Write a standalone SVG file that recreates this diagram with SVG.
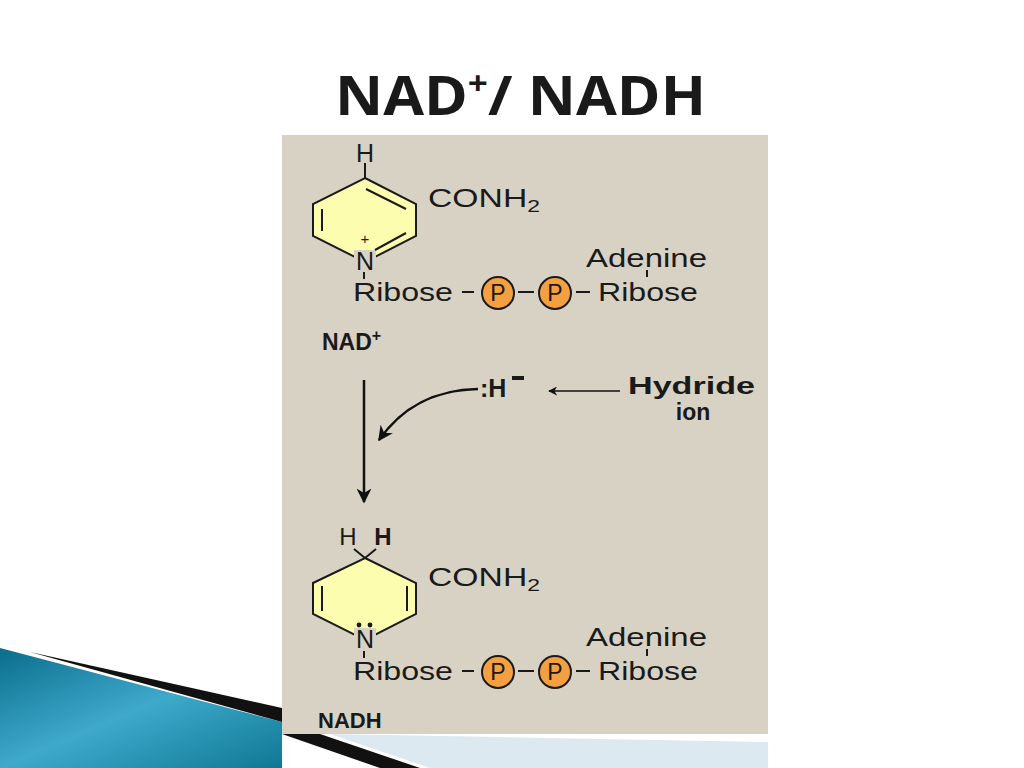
<svg xmlns="http://www.w3.org/2000/svg" width="1024" height="768" viewBox="0 0 1024 768">
<defs>
<linearGradient id="blu" x1="0" y1="0" x2="1" y2="1"><stop offset="0" stop-color="#0a6e8c"/><stop offset="0.5" stop-color="#3fa9cc"/><stop offset="1" stop-color="#0e7894"/></linearGradient>
<marker id="ah" viewBox="0 0 10 10" refX="9" refY="5" markerWidth="6" markerHeight="6" orient="auto-start-reverse"><path d="M0,0 L10,5 L0,10 L3,5 z" fill="#111"/></marker>
</defs>
<style>
.t{font-family:"Liberation Sans",Arial,sans-serif;fill:#1a1a1a}
.b{font-weight:bold}
.ln{stroke:#1a1a1a;stroke-width:2;fill:none}
.ring{fill:#fdfdb0;stroke:#1a1a1a;stroke-width:2}
.p{fill:#f4a040;stroke:#1a1a1a;stroke-width:2}
</style>
<rect width="1024" height="768" fill="#fff"/>
<polygon points="0,648 282,722 282,768 0,768" fill="url(#blu)"/>
<polygon points="30,652 282,708 282,722" fill="#111"/>
<polygon points="282,734 320,734 420,768 380,768" fill="#111"/>
<polygon points="330,734 768,742 768,768 430,768" fill="#dde9f0"/>
<text x="335" y="115" font-family="'Open Sans',sans-serif" font-weight="bold" font-size="54" fill="#1a1a1a" textLength="371" lengthAdjust="spacingAndGlyphs">NAD<tspan font-size="32" dy="-20">+</tspan><tspan dy="20">/ NADH</tspan></text>
<rect x="282" y="135" width="486" height="599" fill="#d8d2c4"/>
<g id="nad">
<polygon class="ring" points="365,178 416,204 416,236 365,262 313,236 313,204"/>
<rect x="354" y="250" width="22" height="20" fill="#d8d2c4"/>
<line class="ln" x1="322" y1="209" x2="322" y2="231"/>
<line class="ln" x1="366" y1="189" x2="406" y2="209"/>
<line class="ln" x1="375" y1="250" x2="406" y2="233"/>
<line class="ln" x1="365" y1="163" x2="365" y2="178"/>
<text class="t" x="365" y="162" text-anchor="middle" font-size="25">H</text>
<text class="t" x="428" y="207" font-size="25" textLength="112" lengthAdjust="spacingAndGlyphs">CONH<tspan font-size="17" dy="5">2</tspan></text>
<text class="t" x="365" y="244" text-anchor="middle" font-size="15">+</text>
<text class="t" x="365" y="270" text-anchor="middle" font-size="25">N</text>
<line class="ln" x1="364" y1="272" x2="364" y2="279"/>
<text class="t" x="586" y="267" font-size="25" textLength="121" lengthAdjust="spacingAndGlyphs">Adenine</text>
<line class="ln" x1="647" y1="270" x2="647" y2="277"/>
<text class="t" x="353" y="301" font-size="25" textLength="100" lengthAdjust="spacingAndGlyphs">Ribose</text>
<line class="ln" x1="462" y1="292" x2="474" y2="292"/>
<circle class="p" cx="498" cy="293" r="16"/>
<text class="t" x="498" y="301" text-anchor="middle" font-size="23">P</text>
<line class="ln" x1="518" y1="292" x2="534" y2="292"/>
<circle class="p" cx="555" cy="293" r="16"/>
<text class="t" x="555" y="301" text-anchor="middle" font-size="23">P</text>
<line class="ln" x1="576" y1="292" x2="590" y2="292"/>
<text class="t" x="598" y="301" font-size="25" textLength="100" lengthAdjust="spacingAndGlyphs">Ribose</text>
<text class="t b" x="322" y="350" font-size="23">NAD<tspan font-size="16" dy="-9">+</tspan></text>
</g>
<g id="hydride">
<text class="t b" x="480" y="397" font-size="25">:H</text>
<rect x="512" y="376" width="12" height="4" fill="#1a1a1a"/>
<text class="t b" x="628" y="394" font-size="23" textLength="127" lengthAdjust="spacingAndGlyphs">Hydride</text>
<text class="t b" x="693" y="420" font-size="23" text-anchor="middle">ion</text>
</g>
<g id="connectors">
<line x1="364" y1="380" x2="364" y2="502" stroke="#111" stroke-width="2.5" marker-end="url(#ah)"/>
<path d="M478,389 C430,390 400,410 379,440" stroke="#111" stroke-width="2.5" fill="none" marker-end="url(#ah)"/>
<line x1="620" y1="391" x2="549" y2="391" stroke="#111" stroke-width="1.5" marker-end="url(#ah)"/>
</g>
<g id="nadh">
<polygon class="ring" points="365,558 416,583 416,614 365,640 313,614 313,583"/>
<rect x="354" y="628" width="22" height="22" fill="#d8d2c4"/>
<line class="ln" x1="322" y1="586" x2="322" y2="611"/>
<line class="ln" x1="407" y1="586" x2="407" y2="611"/>
<line class="ln" x1="365" y1="558" x2="354" y2="549"/>
<line class="ln" x1="365" y1="558" x2="376" y2="549"/>
<text class="t" x="348" y="545" text-anchor="middle" font-size="24">H</text>
<text class="t b" x="383" y="545" text-anchor="middle" font-size="24">H</text>
<text class="t" x="428" y="586" font-size="25" textLength="112" lengthAdjust="spacingAndGlyphs">CONH<tspan font-size="17" dy="5">2</tspan></text>
<circle cx="359" cy="625" r="2.4" fill="#1a1a1a"/>
<circle cx="370" cy="625" r="2.4" fill="#1a1a1a"/>
<text class="t" x="365" y="648" text-anchor="middle" font-size="25">N</text>
<line class="ln" x1="364" y1="651" x2="364" y2="658"/>
<text class="t" x="586" y="646" font-size="25" textLength="121" lengthAdjust="spacingAndGlyphs">Adenine</text>
<line class="ln" x1="647" y1="649" x2="647" y2="656"/>
<text class="t" x="353" y="680" font-size="25" textLength="100" lengthAdjust="spacingAndGlyphs">Ribose</text>
<line class="ln" x1="462" y1="671" x2="474" y2="671"/>
<circle class="p" cx="498" cy="672" r="16"/>
<text class="t" x="498" y="680" text-anchor="middle" font-size="23">P</text>
<line class="ln" x1="518" y1="671" x2="534" y2="671"/>
<circle class="p" cx="555" cy="672" r="16"/>
<text class="t" x="555" y="680" text-anchor="middle" font-size="23">P</text>
<line class="ln" x1="576" y1="671" x2="590" y2="671"/>
<text class="t" x="598" y="680" font-size="25" textLength="100" lengthAdjust="spacingAndGlyphs">Ribose</text>
<text class="t b" x="318" y="728" font-size="22">NADH</text>
</g>
</svg>
